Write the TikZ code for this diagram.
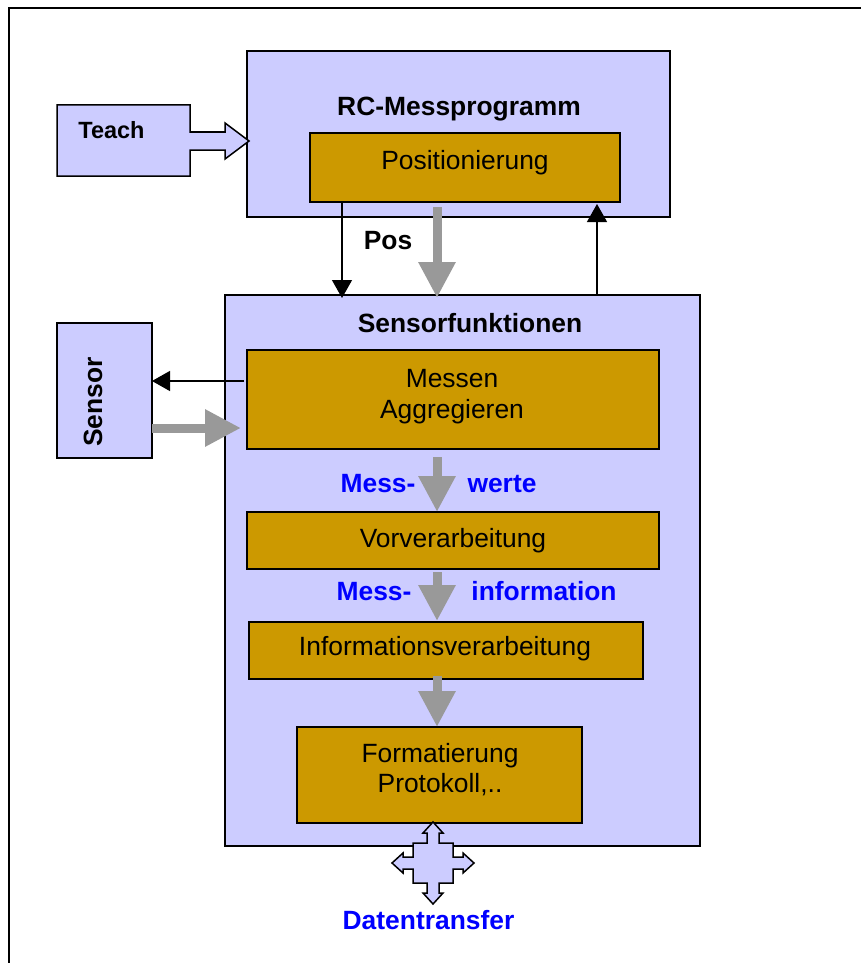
\documentclass[tikz,border=0pt]{standalone}
\usepackage{fontspec}
\setmainfont{Liberation Sans}
\usetikzlibrary{arrows.meta,calc}
\definecolor{lav}{HTML}{CCCCFF}
\definecolor{gold}{HTML}{CC9900}
\definecolor{garr}{HTML}{999999}
\definecolor{bluetxt}{RGB}{0,0,255}
\tikzset{
  lavbox/.style={draw=black, fill=lav, line width=1.5pt, inner sep=0pt, outer sep=0pt},
  goldbox/.style={draw=black, fill=gold, line width=1.5pt, inner sep=0pt, outer sep=0pt},
  grayarrow/.style={draw=garr, line width=9pt, -{Triangle[width=35pt,length=36pt]}},
  blackarrow/.style={draw=black, line width=1.3pt, -{Triangle[width=20pt,length=18pt]}},
  txt/.style={font=\fontsize{26.4}{31}\selectfont, anchor=base, inner sep=0pt},
  btxt/.style={font=\fontsize{26.4}{31}\selectfont\bfseries, anchor=base, inner sep=0pt},
  bluelbl/.style={btxt, text=bluetxt},
}
\begin{document}
\begin{tikzpicture}[x=1pt,y=-1pt]
\useasboundingbox (0,0) rectangle (861,963);
% frame
\draw[line width=2.5pt] (9,963) -- (9,8) -- (861,8);

% boxes
\node[lavbox, minimum width=423pt, minimum height=166pt] (rc) at (458.5,134) {};
\node[goldbox, minimum width=310pt, minimum height=69pt] (posi) at (465,167.5) {};
\node[lavbox, minimum width=475pt, minimum height=551pt] (sf) at (462.5,570.5) {};
\node[goldbox, minimum width=412pt, minimum height=99pt] (messen) at (453,399.5) {};
\node[goldbox, minimum width=412pt, minimum height=57pt] (vor) at (453,540.5) {};
\node[goldbox, minimum width=394pt, minimum height=57pt] (info) at (446,650.5) {};
\node[goldbox, minimum width=285pt, minimum height=96pt] (form) at (439.5,775) {};
\node[lavbox, minimum width=95pt, minimum height=135pt] (sensor) at (104.5,390.5) {};

% Teach block arrow
\draw[fill=lav, line width=1.5pt, line join=miter]
  (57,105) -- (190,105) -- (190,132) -- (225,132) -- (225,123) -- (249,141)
  -- (225,159) -- (225,150) -- (190,150) -- (190,176) -- (57,176) -- cycle;
\node[btxt, font=\fontsize{23.5}{28}\selectfont\bfseries] (teach) at (111.5,139) {Teach};

% texts
\node[btxt] (rctitle) at (459,116) {RC-Messprogramm};
\node[txt] (positxt) at (465,169) {Positionierung};
\node[btxt] (postxt) at (388,249) {Pos};
\node[btxt] (sftitle) at (470,332) {Sensorfunktionen};
\node[txt] (messtxt) at (452,387.5) {Messen};
\node[txt] (aggtxt) at (452,418.5) {Aggregieren};
\node[txt] (vortxt) at (453,547) {Vorverarbeitung};
\node[txt] (infotxt) at (445,655) {Informationsverarbeitung};
\node[txt] (formtxt) at (440,762) {Formatierung};
\node[txt] (prottxt) at (440,792) {Protokoll,..};
\node[btxt, rotate=90] (sensortxt) at (102,402) {Sensor};
\node[bluelbl] (mess1) at (378,492) {Mess-};
\node[bluelbl] (werte) at (502,492) {werte};
\node[bluelbl] (mess2) at (374,600) {Mess-};
\node[bluelbl] (information) at (544,600) {information};
\node[bluelbl] (daten) at (428.5,929) {Datentransfer};

% connector x/y positions
\coordinate (px) at (342,0);
\coordinate (gx) at (437,0);
\coordinate (ux) at (597,0);
\coordinate (sy1) at (0,381);
\coordinate (sy2) at (0,428);

% connectors
\draw[blackarrow] (px |- posi.south) -- ($(px |- sf.north)+(0,3)$);
\draw[grayarrow] ($(gx |- posi.south)+(0,5)$) -- ($(gx |- sf.north)+(0,3)$);
\draw[blackarrow] (ux |- sf.north) -- ($(ux |- posi.south)+(0,2)$);
\draw[blackarrow] ($(messen.west |- sy1)+(-3,0)$) -- (sensor.east |- sy1);
\draw[grayarrow] (sensor.east |- sy2) -- ($(messen.west |- sy2)+(-6,0)$);
\draw[grayarrow] ($(gx |- messen.south)+(0,8)$) -- (gx |- vor.north);
\draw[grayarrow] ($(gx |- vor.north)+(0,60)$) -- ($(gx |- info.north)+(0,-1)$);
\draw[grayarrow] ($(gx |- info.south)+(0,-3)$) -- (gx |- form.north);

% Datentransfer four-way arrow
\draw[fill=lav, line width=1.5pt, line join=miter, shift={(433,863)}]
  (0,-41) -- (10,-30) -- (6,-30) -- (6,-20) -- (20,-20) -- (20,-6) -- (30,-6) -- (30,-10)
  -- (41,0) -- (30,10) -- (30,6) -- (20,6) -- (20,20) -- (6,20) -- (6,30) -- (10,30)
  -- (0,41) -- (-10,30) -- (-6,30) -- (-6,20) -- (-20,20) -- (-20,6) -- (-30,6) -- (-30,10)
  -- (-41,0) -- (-30,-10) -- (-30,-6) -- (-20,-6) -- (-20,-20) -- (-6,-20) -- (-6,-30) -- (-10,-30) -- cycle;
\end{tikzpicture}
\end{document}
